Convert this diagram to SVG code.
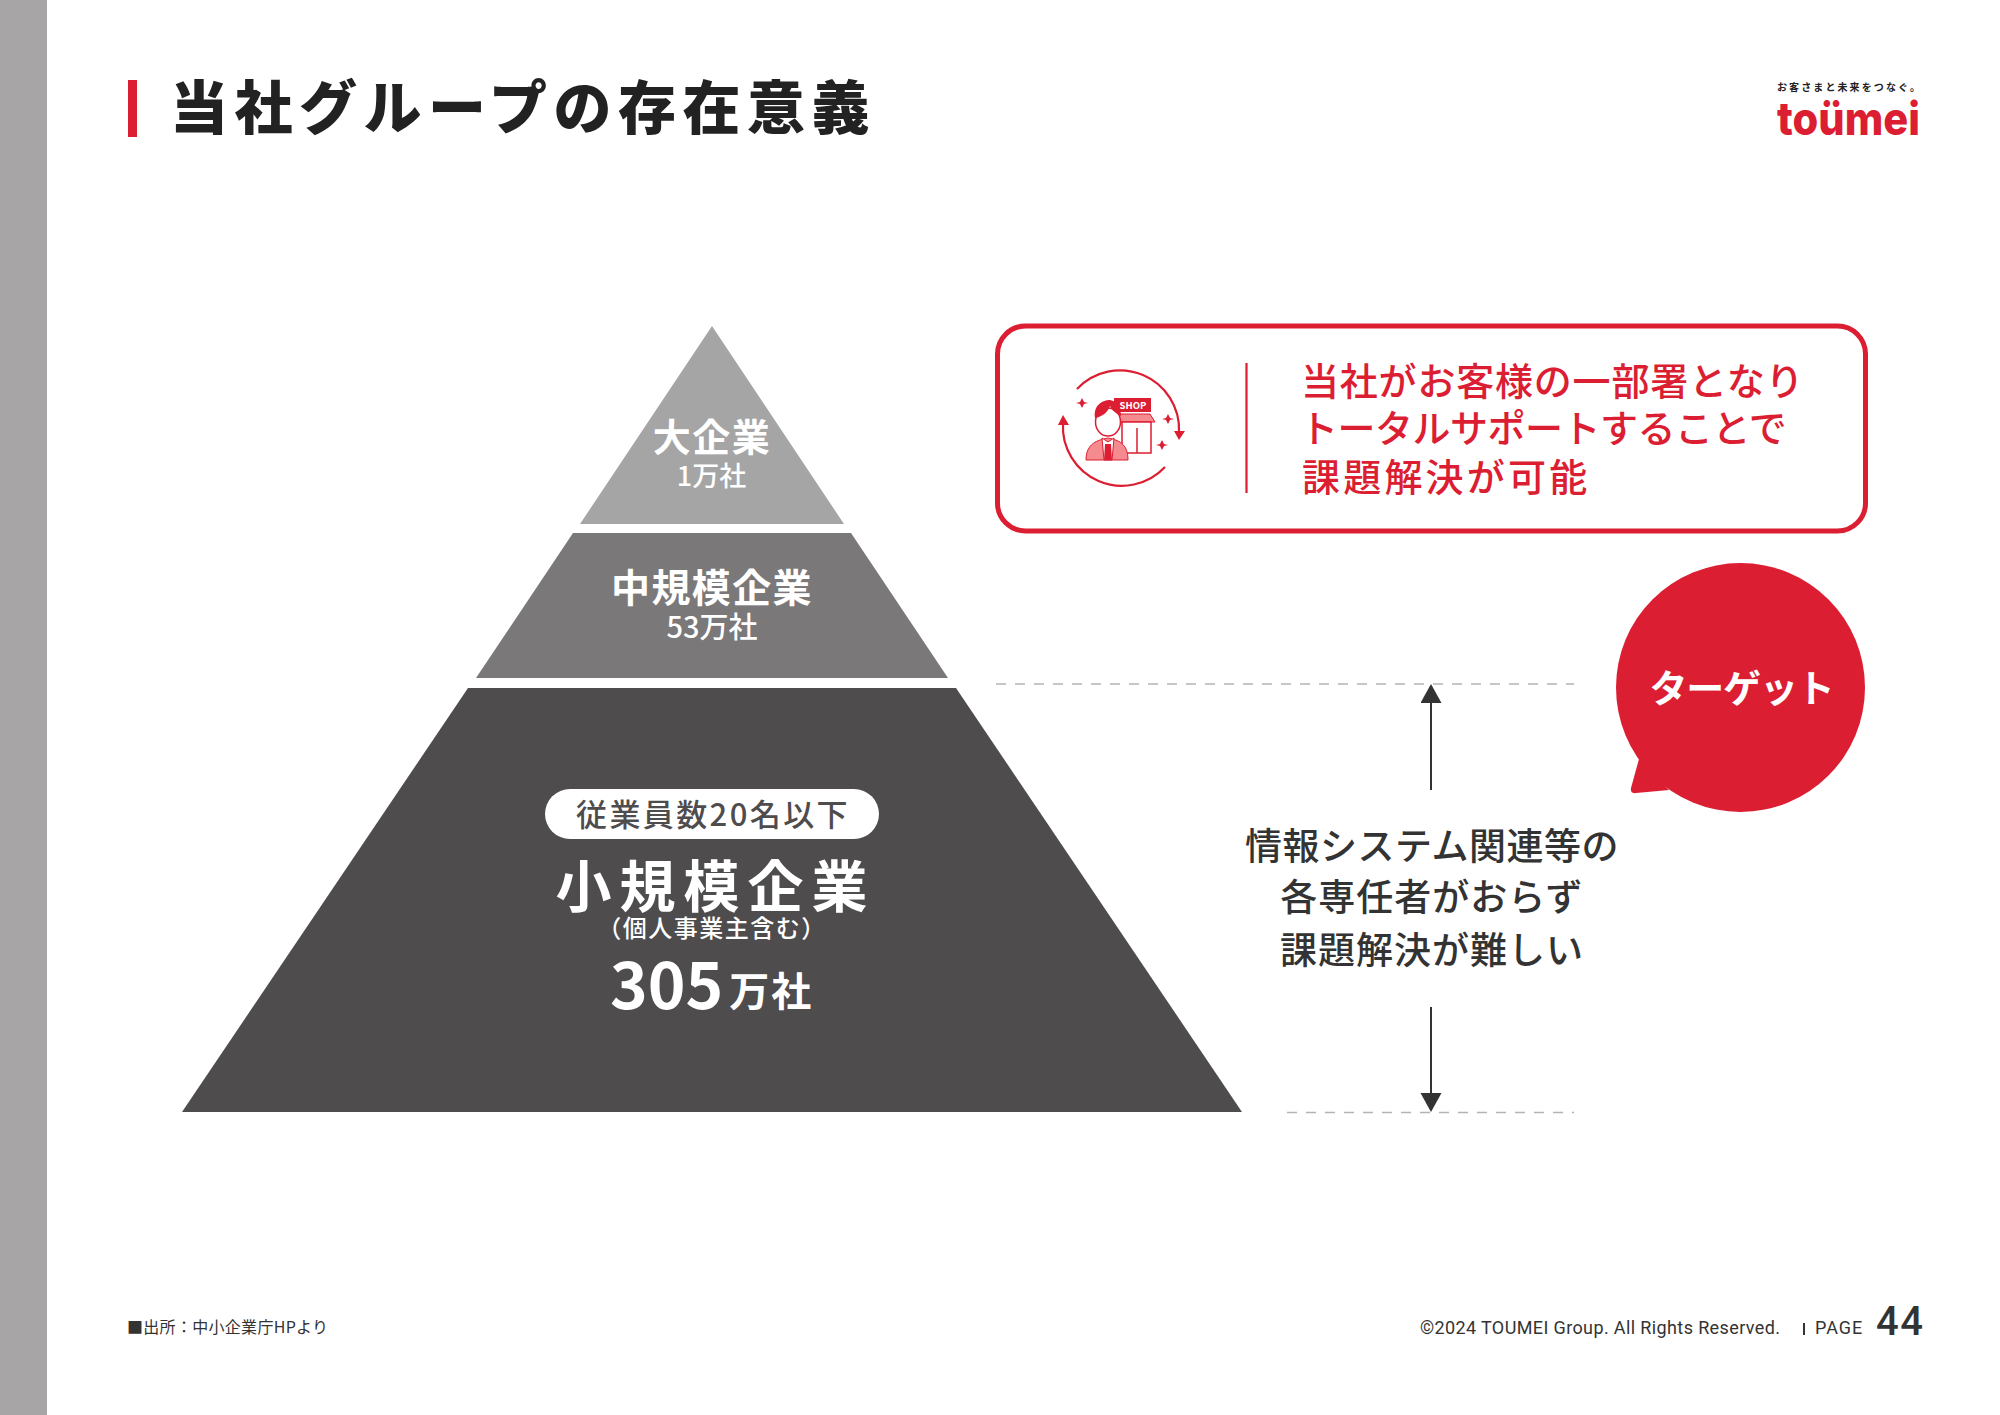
<svg xmlns="http://www.w3.org/2000/svg" width="2000" height="1415" viewBox="0 0 2000 1415">
<style>
text{font-family:"Noto Sans CJK JP","Noto Sans",sans-serif}
.w{fill:#fff;text-anchor:middle}
.b{font-weight:700}
.m{font-weight:500}
.r{fill:#dc1e32}
.d{fill:#333}
.dash{stroke:#b4b4b4;stroke-width:1.6;stroke-dasharray:10 9;fill:none}
.arr{stroke:#333;stroke-width:2;fill:none;marker-end:url(#ah)}
.ir{fill:none;stroke:#dc1e32;stroke-width:2.2}
.lat{font-family:Roboto,"Noto Sans CJK JP",sans-serif}
</style>
<defs>
<marker id="ah" markerUnits="userSpaceOnUse" markerWidth="22" markerHeight="22" refX="0" refY="10.5" orient="auto"><path d="M0 0L19 10.5L0 21Z" fill="#333"/></marker>
</defs>
<rect width="2000" height="1415" fill="#fff"/>
<rect id="sidebar" x="0" y="0" width="47" height="1415" fill="#a7a5a6"/>
<g id="title">
<rect x="128" y="80" width="9" height="57" class="r"/>
<text x="170" y="129" font-weight="900" font-size="58" letter-spacing="6.5" fill="#222">当社グループの存在意義</text>
</g>
<g id="logo">
<text x="1777" y="91" class="b" font-size="10" letter-spacing="2.1" fill="#222">お客さまと未来をつなぐ。</text>
<text x="1777" y="135" font-size="46" font-weight="800" class="r" style="font-family:Inter,sans-serif" textLength="143" lengthAdjust="spacingAndGlyphs">toümei</text>
</g>
<g id="pyramid-large">
<path d="M712 326L844 524H580Z" fill="#a6a5a5"/>
<text x="712" y="451" class="w b" font-size="38" letter-spacing="1.5">大企業</text>
<text x="711.500" y="486" class="w m" font-size="27">1万社</text>
</g>
<g id="pyramid-mid">
<path d="M573 533H851L948 678H476Z" fill="#7a7879"/>
<text x="712" y="602" class="w b" font-size="39" letter-spacing="1.4">中規模企業</text>
<text x="712" y="638" class="w m" font-size="29">53万社</text>
</g>
<g id="pyramid-small">
<path d="M468 688H956L1242 1112H182Z" fill="#4e4c4d"/>
<rect x="545" y="789" width="334" height="50" rx="25" fill="#fff"/>
<text x="713" y="826" text-anchor="middle" class="m" font-size="31" letter-spacing="2.4" fill="#4e4c4d">従業員数20名以下</text>
<text x="715.500" y="907" class="w b" font-size="56" letter-spacing="8">小規模企業</text>
<text x="712" y="937" class="w m" font-size="24" letter-spacing="1.5">（個人事業主含む）</text>
<text x="610" y="1009" fill="#fff" class="b" font-size="64">305<tspan font-size="40" dx="6" dy="-3" letter-spacing="2">万社</tspan></text>
</g>
<g id="callout">
<rect x="997.5" y="326" width="868" height="205" rx="28" fill="#fff" stroke="#dc1e32" stroke-width="5"/>
<g id="shop-icon">
<path class="ir" d="M1077 389A59 59 0 0 1 1179 432"/>
<path class="r" d="M1174 431H1185L1179 440Z"/>
<path class="ir" d="M1165 467A59 59 0 0 1 1063 423"/>
<path class="r" d="M1058 425H1069L1063 415Z"/>
<rect x="1114" y="398" width="37" height="14" class="r"/>
<text x="1133" y="409" font-size="9.5" fill="#fff" class="b" text-anchor="middle">SHOP</text>
<path d="M1120 414H1150L1155 422H1118Z" fill="#f58a8f" stroke="#dc1e32" stroke-width="1"/>
<rect x="1122" y="422" width="29" height="31" fill="#fff" stroke="#dc1e32" stroke-width="1.5"/>
<path d="M1137 428V453" stroke="#dc1e32" stroke-width="1.5"/>
<path d="M1086 460C1086 443 1098 440 1108 438C1118 440 1128 443 1128 460Z" fill="#f58a8f" stroke="#dc1e32" stroke-width="1"/>
<path d="M1102 438L1108 442L1114 438L1112 460H1104Z" fill="#fff" stroke="#dc1e32" stroke-width="1"/>
<path d="M1105 444H1111L1112 460H1104Z" class="r"/>
<ellipse cx="1108" cy="422" rx="12.5" ry="14" fill="#fff" stroke="#dc1e32" stroke-width="1.5"/>
<path d="M1095 418C1093 405 1103 400 1110 400C1117 401 1121 408 1121 416C1115 413 1112 410 1110 406C1108 412 1102 417 1095 418Z" class="r"/>
<path class="r" d="M1082 398L1084 402L1088 403L1084 404L1082 408L1080 404L1076 403L1080 402Z"/>
<path class="r" d="M1168 414L1170 418L1174 419L1170 420L1168 424L1166 420L1162 419L1166 418Z"/>
<path class="r" d="M1162 440L1164 444L1168 445L1164 446L1162 450L1160 446L1156 445L1160 444Z"/>
</g>
<path d="M1246.500 363V493" stroke="#dc1e32" stroke-width="2.2"/>
<g font-size="38">
<text x="1301" y="395" class="r m" letter-spacing="0.8">当社がお客様の一部署となり</text>
<text x="1300" y="442" class="r m" letter-spacing="-0.5">トータルサポートすることで</text>
<text x="1302" y="491" class="r m" letter-spacing="3.2">課題解決が可能</text>
</g>
</g>
<g id="target-bubble">
<circle cx="1740.5" cy="687.5" r="124.5" class="r"/>
<path d="M1639 759L1631 788Q1630 794 1636 793L1669 790Q1660 780 1639 759Z" class="r"/>
<text x="1741.5" y="702" class="w b" font-size="38" letter-spacing="-1.2">ターゲット</text>
</g>
<g id="note">
<text x="1432" y="860" text-anchor="middle" class="m d" font-size="37" letter-spacing="0.5">情報システム関連等の</text>
<text x="1432" y="911" text-anchor="middle" class="m d" font-size="37" letter-spacing="1">各専任者がおらず</text>
<text x="1432" y="964" text-anchor="middle" class="m d" font-size="37" letter-spacing="1">課題解決が難しい</text>
</g>
<g id="connectors">
<path class="dash" d="M996 684H1574"/>
<path class="dash" d="M1287 1112.500H1574"/>
<path class="arr" d="M1431 790V703"/>
<path class="arr" d="M1431 1007V1093"/>
</g>
<g id="footer">
<text x="127" y="1333" font-size="16" class="d" letter-spacing="0.3">■出所：中小企業庁HPより</text>
<text x="1420" y="1334" font-size="18" class="d lat" letter-spacing="0.38">©2024 TOUMEI Group. All Rights Reserved.</text>
<rect x="1803" y="1323" width="2" height="12" fill="#333"/>
<text x="1815" y="1334" font-size="18" class="d lat" letter-spacing="1">PAGE</text>
<text x="1876" y="1335" font-size="40" class="d lat" font-weight="500" letter-spacing="1.5">44</text>
</g>
</svg>
